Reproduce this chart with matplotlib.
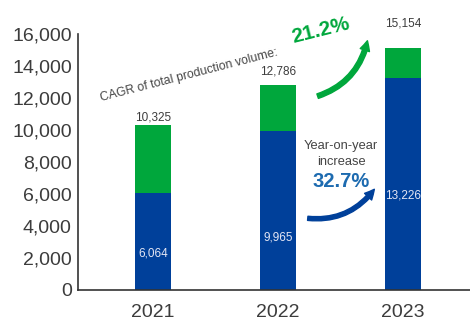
import matplotlib
matplotlib.use("Agg")
import matplotlib.pyplot as plt
from matplotlib.patches import FancyArrowPatch

plt.rcParams['font.family'] = ['Liberation Sans', 'DejaVu Sans']

years = ["2021", "2022", "2023"]
blue_vals = [6064, 9965, 13226]
totals = [10325, 12786, 15154]
yticks = [0, 2000, 4000, 6000, 8000, 10000, 12000, 14000, 16000]
cagr_text = "CAGR of total production volume:"
cagr_value = "21.2%"
yoy_text = "Year-on-year\nincrease"
yoy_value = "32.7%"

green_vals = [t - b for t, b in zip(totals, blue_vals)]

BLUE = "#00409a"
GREEN = "#00a73c"
TEXT = "#3c3c3c"

fig = plt.figure(figsize=(4.7, 3.24), dpi=100)
ax = fig.add_axes([78/470, 34/324, 392/470, 256/324])

x = list(range(len(years)))
w = 0.288
ax.bar(x, blue_vals, width=w, color=BLUE, zorder=2)
ax.bar(x, green_vals, width=w, bottom=blue_vals, color=GREEN, zorder=2)

ax.set_xlim(-0.6, 2.536)
ax.set_ylim(0, 16000)
ax.set_yticks(yticks)
ax.set_yticklabels([f"{v:,}" for v in yticks])
ax.set_xticks(x)
ax.set_xticklabels(years)
ax.tick_params(axis='y', length=0, pad=4.5, labelsize=14, labelcolor=TEXT)
ax.tick_params(axis='x', length=0, pad=10, labelsize=14, labelcolor=TEXT)
for s in ['top', 'right']:
    ax.spines[s].set_visible(False)
for s in ['left', 'bottom']:
    ax.spines[s].set_color("#333333")
    ax.spines[s].set_linewidth(1.2)

# total labels (offsets above bar top, in points)
total_offsets = [0.6, 6, 13]
for xi, t, off in zip(x, totals, total_offsets):
    ax.annotate(f"{t:,}", (xi, t), xytext=(0, off), textcoords='offset points',
                ha='center', va='bottom', fontsize=8.5, color=TEXT, annotation_clip=False)

# inner labels (fraction of blue height)
inner_frac = [0.381, 0.332, 0.445]
for xi, b, f in zip(x, blue_vals, inner_frac):
    ax.text(xi, b * f, f"{b:,}", ha='center', va='center', fontsize=8.5, color="#e4e6f4")

# CAGR annotation
ax.text(0.29, 13400, cagr_text, rotation=14.5, rotation_mode='anchor',
        ha='center', va='center', fontsize=8.8, color="#444444")
ax.text(1.344, 16250, cagr_value, rotation=14, rotation_mode='anchor',
        ha='center', va='center', fontsize=15, fontweight='bold', color=GREEN,
        clip_on=False)

arr1 = FancyArrowPatch((1.296, 12062), (1.72, 15750),
                       connectionstyle="arc3,rad=0.3",
                       arrowstyle="simple,head_width=7,head_length=7,tail_width=3.4",
                       color=GREEN, zorder=3)
ax.add_patch(arr1)

# YoY annotation
ax.text(1.504, 8500, yoy_text, ha='center', va='center', fontsize=9.3,
        color="#444444", linespacing=1.45)
ax.text(1.504, 6812, yoy_value, ha='center', va='center', fontsize=14.5,
        fontweight='bold', color="#1d6bb0")

arr2 = FancyArrowPatch((1.216, 4500), (1.784, 6437),
                       connectionstyle="arc3,rad=0.3",
                       arrowstyle="simple,head_width=7,head_length=7,tail_width=3",
                       color=BLUE, zorder=3)
ax.add_patch(arr2)

fig.savefig("out.png", dpi=100)
